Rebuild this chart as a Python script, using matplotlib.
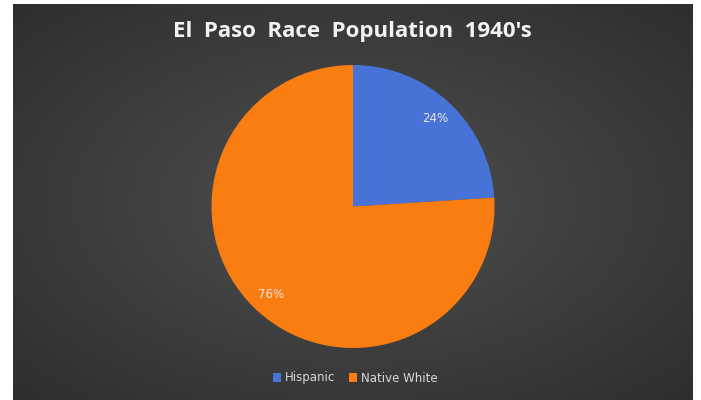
import matplotlib.pyplot as plt
import numpy as np

labels = ['Hispanic', 'Native White']
shares = [24, 76]
colors = ['#4773D8', '#FA7D12']
title = "El  Paso  Race  Population  1940's"

W, H = 701, 400
fig = plt.figure(figsize=(W / 100, H / 100), dpi=100)
fig.patch.set_facecolor('white')

# dark radial background
bg = fig.add_axes([13 / W, 0, 680 / W, 396 / H])
yy, xx = np.mgrid[-1:1:200j, -1:1:340j]
r = np.sqrt(xx ** 2 + yy ** 2) / np.sqrt(2)
shade = 0.31 - 0.13 * r
bg.imshow(np.dstack([shade, shade, shade]), aspect='auto', extent=[0, 1, 0, 1])
bg.set_axis_off()

# pie, radius 141.5 px centred at (353, 206.5)
rad = 141.5
cx, cy = 353, H - 206.5
ax = fig.add_axes([(cx - rad) / W, (cy - rad) / H, 2 * rad / W, 2 * rad / H])
wedges, texts, autotexts = ax.pie(shares, colors=colors, startangle=90, counterclock=False,
                                  autopct='%1.0f%%', pctdistance=0.85, radius=1,
                                  wedgeprops=dict(linewidth=0),
                                  textprops=dict(color='#E6E6E6', fontsize=8.5))
ax.set_xlim(-1, 1)
ax.set_ylim(-1, 1)
ax.set_axis_off()

fig.text(352 / W, 1 - 32 / H, title, ha='center', va='center', color='#F2F2F2',
         fontsize=16, fontweight='bold', family='Open Sans')

fig.legend(wedges, labels, loc='center', bbox_to_anchor=(355 / W, 1 - 378 / H), ncol=2,
           frameon=False, fontsize=8.5, labelcolor='#D9D9D9', handlelength=0.7,
           handleheight=0.7, handletextpad=0.3, columnspacing=1.2)

fig.savefig('out.png', dpi=100)
